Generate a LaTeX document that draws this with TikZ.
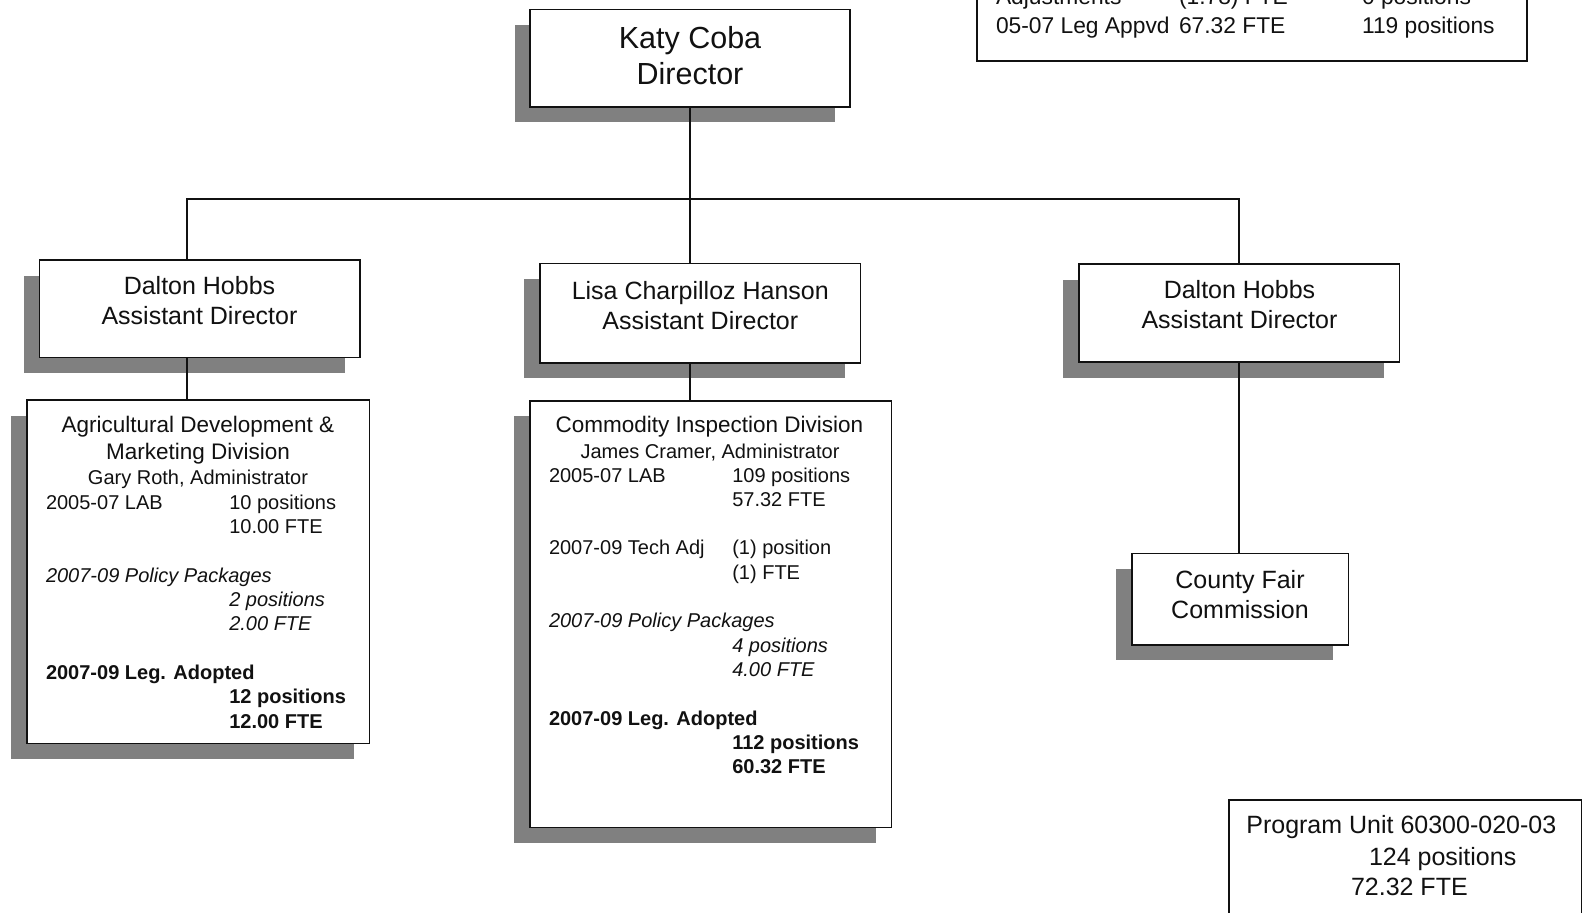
\documentclass[tikz,border=0pt]{standalone}
\usepackage{fontspec}
\setmainfont{Liberation Sans}
\usetikzlibrary{shadows}
\definecolor{shadowgray}{RGB}{128,128,128}
\definecolor{ink}{RGB}{17,17,17}
\newcommand\fsz[1]{\fontsize{#1}{#1}\selectfont}
\begin{document}
\begin{tikzpicture}[x=1pt,y=-1pt,
  box/.style={draw=ink, line width=1.6pt, fill=white, rectangle, inner sep=0pt, outer sep=0pt},
  shbox/.style={box, general shadow={fill=shadowgray, shadow xshift=-15.5pt, shadow yshift=-15.5pt}},
  conn/.style={draw=ink, line width=1.6pt},
  t/.style={anchor=base west, inner sep=0pt, outer sep=0pt, text=ink},
  tc/.style={anchor=base, inner sep=0pt, outer sep=0pt, text=ink},
  big/.style={font=\fsz{30.5}},
  mid/.style={font=\fsz{25}},
  sum/.style={font=\fsz{22.8}},
  ttl/.style={font=\fsz{22.5}},
  sml/.style={font=\fsz{20}},
  itl/.style={font=\fsz{20}\itshape},
  bld/.style={font=\fsz{20}\bfseries},
]
\path[use as bounding box] (0,0) rectangle (1583,913);
\clip (0,0) rectangle (1583,913);

% boxes
\node[shbox, minimum width=320pt, minimum height=97.4pt] (katy) at (690,58) {};
\node[shbox, minimum width=320.7pt, minimum height=97.3pt] (dal1) at (199.7,308.7) {};
\node[shbox, minimum width=320.7pt, minimum height=99.4pt] (lisa) at (700.3,313) {};
\node[shbox, minimum width=320.6pt, minimum height=98pt] (dal2) at (1239,313) {};
\node[shbox, minimum width=342.6pt, minimum height=343.3pt] (agri) at (198,571.7) {};
\node[shbox, minimum width=361.7pt, minimum height=426.6pt] (comm) at (710.8,614) {};
\node[shbox, minimum width=216.6pt, minimum height=91.4pt] (cfc) at (1240,599) {};
\node[box, minimum width=550pt, minimum height=121pt] (summ) at (1251.7,0.5) {};
\node[box, minimum width=352.7pt, minimum height=160pt] (prog) at (1405.3,880) {};

% connectors
\coordinate (jl) at (186.7,199);
\coordinate (jr) at (1239,199);
\draw[conn] (katy.south) -- (katy.south |- jl);
\draw[conn] (jl |- dal1.north) -- (jl) -- (jr) -- (dal2.north);
\draw[conn] (katy.south |- jl) -- (katy.south |- lisa.north);
\draw[conn] (jl |- dal1.south) -- (jl |- agri.north);
\draw[conn] (katy.south |- lisa.south) -- (katy.south |- comm.north);
\draw[conn] (dal2.south) -- (dal2.south |- cfc.north);

% director
\node[tc,big] (katyA) at (690,48.5) {Katy Coba};
\node[tc,big] (katyB) at (690,84) {Director};

% assistant directors
\node[tc,mid] (dal1A) at (199.5,294.5) {Dalton Hobbs};
\node[tc,mid] (dal1B) at (199.5,324.5) {Assistant Director};
\node[tc,mid] (lisaA) at (700.3,299) {Lisa Charpilloz Hanson};
\node[tc,mid] (lisaB) at (700.3,329) {Assistant Director};
\node[tc,mid] (dal2A) at (1239.5,298.3) {Dalton Hobbs};
\node[tc,mid] (dal2B) at (1239.5,328.3) {Assistant Director};

% county fair
\node[tc,mid] (cfcA) at (1240,588) {County Fair};
\node[tc,mid] (cfcB) at (1240,618.3) {Commission};

% agricultural development
\node[tc,ttl] (agA) at (198,432.7) {Agricultural Development \&};
\node[tc,ttl] (agB) at (198,459.4) {Marketing Division};
\node[tc,sml] (agC) at (198,484.3) {Gary Roth, Administrator};
\node[t,sml] (agL1) at (46,509.3) {2005-07 LAB};
\node[t,itl] (agL2) at (46,582.2) {2007-09 Policy Packages};
\node[t,bld] (agL3) at (46,679.4) {2007-09 Leg. Adopted};
\node[t,sml] (agR1) at (229.3,509.3) {10 positions};
\node[t,sml] (agR2) at (229.3,533.6) {10.00 FTE};
\node[t,itl] (agR3) at (229.3,606.5) {2 positions};
\node[t,itl] (agR4) at (229.3,630.8) {2.00 FTE};
\node[t,bld] (agR5) at (229.3,703.7) {12 positions};
\node[t,bld] (agR6) at (229.3,728) {12.00 FTE};

% commodity inspection
\node[tc,ttl] (cmA) at (709.5,432.1) {Commodity Inspection Division};
\node[tc,sml] (cmB) at (710,458.6) {James Cramer, Administrator};
\node[t,sml] (cmL1) at (549,482) {2005-07 LAB};
\node[t,sml] (cmL2) at (549,554.9) {2007-09 Tech Adj};
\node[t,itl] (cmL3) at (549,627.8) {2007-09 Policy Packages};
\node[t,bld] (cmL4) at (549,725) {2007-09 Leg. Adopted};
\node[t,sml] (cmR1) at (732.3,482) {109 positions};
\node[t,sml] (cmR2) at (732.3,506.3) {57.32 FTE};
\node[t,sml] (cmR3) at (732.3,554.9) {(1) position};
\node[t,sml] (cmR4) at (732.3,579.2) {(1) FTE};
\node[t,itl] (cmR5) at (732.3,652.1) {4 positions};
\node[t,itl] (cmR6) at (732.3,676.4) {4.00 FTE};
\node[t,bld] (cmR7) at (732.3,749.3) {112 positions};
\node[t,bld] (cmR8) at (732.3,773.6) {60.32 FTE};

% summary box (top right)
\node[t,sum] (smA1) at (996,4.5) {Adjustments};
\node[t,sum] (smA2) at (1179,4.5) {(1.78) FTE};
\node[t,sum] (smA3) at (1362,4.5) {0 positions};
\node[t,sum] (smB1) at (996,33) {05-07 Leg Appvd};
\node[t,sum] (smB2) at (1179,33) {67.32 FTE};
\node[t,sum] (smB3) at (1362,33) {119 positions};

% program unit
\node[tc,mid] (pgA) at (1401.3,833.5) {Program Unit 60300-020-03};
\node[t,mid] (pgB) at (1369,865.8) {124 positions};
\node[t,mid] (pgC) at (1351,895.8) {72.32 FTE};
\end{tikzpicture}
\end{document}
